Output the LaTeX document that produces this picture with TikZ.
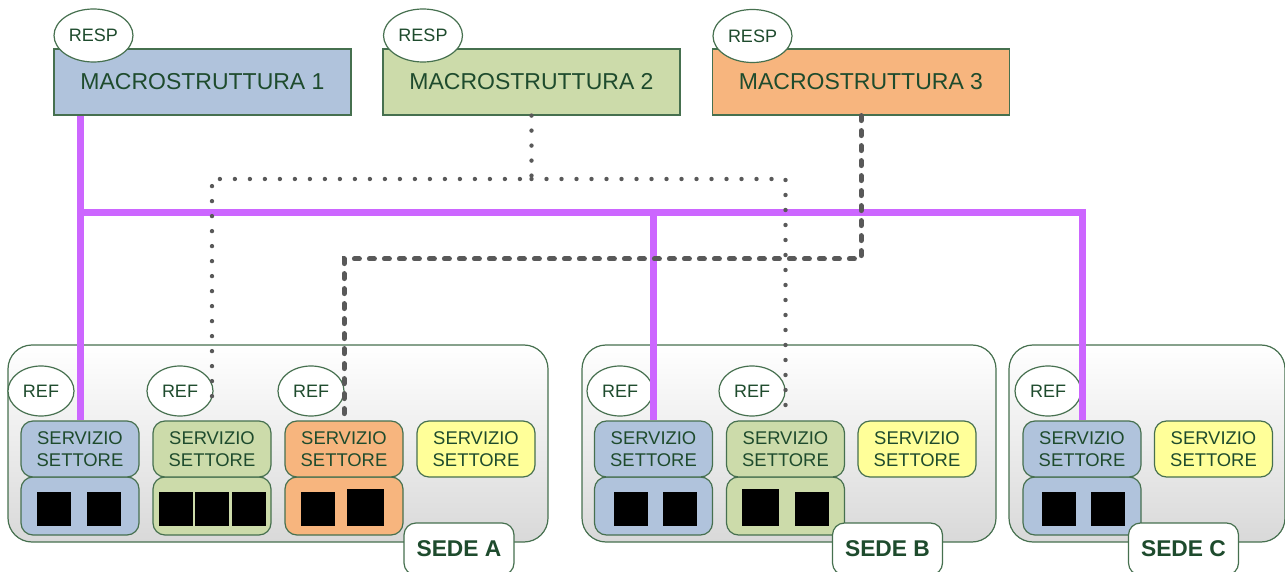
\documentclass[tikz,border=0pt]{standalone}
\usepackage{fontspec}
\setmainfont{Liberation Sans}
\usetikzlibrary{shapes.geometric}

\definecolor{testo}{HTML}{1E4B2D}
\definecolor{bordo}{HTML}{46704F}
\definecolor{blu}{HTML}{B0C3DC}
\definecolor{verde}{HTML}{CCDBAA}
\definecolor{arancio}{HTML}{F7B57E}
\definecolor{giallo}{HTML}{FFFF99}
\definecolor{viola}{HTML}{CC66FF}
\definecolor{grigio}{HTML}{595959}

\begin{document}
\begin{tikzpicture}[
    x=0.5pt, y=-0.5pt,
    every node/.style={text=testo, inner sep=0pt},
    macro/.style={rectangle, draw=bordo, line width=0.6pt, minimum width=148.5pt, minimum height=33pt, font=\fontsize{11.5}{13}\selectfont},
    resp/.style={ellipse, draw=bordo, fill=white, line width=0.6pt, minimum width=39.5pt, minimum height=26.5pt, font=\fontsize{9}{10}\selectfont},
    ref/.style={ellipse, draw=bordo, fill=white, line width=0.6pt, minimum width=33pt, minimum height=25pt, font=\fontsize{9}{10}\selectfont},
    sede/.style={rectangle, rounded corners=12pt, draw=bordo, line width=0.6pt, top color=white, bottom color=black!15, minimum height=98.5pt},
    servizio/.style={rectangle, rounded corners=6pt, draw=bordo, line width=0.6pt, minimum width=59pt, minimum height=28pt, align=center, font=\fontsize{9.2}{11}\selectfont},
    persone/.style={rectangle, rounded corners=6pt, draw=bordo, line width=0.6pt, minimum width=59pt, minimum height=29pt},
    nome/.style={rectangle, fill=black, minimum width=17pt, minimum height=17pt},
    nomebig/.style={rectangle, fill=black, minimum width=18.5pt, minimum height=18.5pt},
    etichetta/.style={rectangle, rounded corners=6pt, draw=bordo, fill=white, line width=0.6pt, minimum width=55pt, minimum height=26pt, font=\fontsize{11.4}{13}\selectfont\bfseries},
    link/.style={draw=viola, line width=3.5pt},
    dotline/.style={draw=grigio, line width=2.2pt, line cap=round, dash pattern=on 0pt off 7.5pt},
    dashline/.style={draw=grigio, line width=2.5pt, line cap=round, dash pattern=on 2.5pt off 5pt}
]
    \useasboundingbox (0,0) rectangle (1285,572);

    % macrostrutture
    \node[macro, fill=blu] (m1) at (202.5,82) {MACROSTRUTTURA 1};
    \node[macro, fill=verde] (m2) at (531.5,82) {MACROSTRUTTURA 2};
    \node[macro, fill=arancio] (m3) at (861,82) {MACROSTRUTTURA 3};
    \node[resp] (r1) at (93.5,35.5) {RESP};
    \node[resp] (r2) at (423,35.5) {RESP};
    \node[resp] (r3) at (752.5,36) {RESP};

    % sedi
    \node[sede, minimum width=270pt] (sedeA) at (278,443.5) {};
    \node[sede, minimum width=207pt] (sedeB) at (789,443.5) {};
    \node[sede, minimum width=138pt] (sedeC) at (1147,443.5) {};

    % sede A
    \node[persone, fill=blu] (pA1) at (80,506) {};
    \node[persone, fill=verde] (pA2) at (212,506) {};
    \node[persone, fill=arancio] (pA3) at (344,506) {};
    \node[servizio, fill=blu] (sA1) at (80,449) {SERVIZIO\\SETTORE};
    \node[servizio, fill=verde] (sA2) at (212,449) {SERVIZIO\\SETTORE};
    \node[servizio, fill=arancio] (sA3) at (344,449) {SERVIZIO\\SETTORE};
    \node[servizio, fill=giallo] (sA4) at (476,449) {SERVIZIO\\SETTORE};
    \node[nome] (nA1a) at (54,509) {};
    \node[nome] (nA1b) at (104,509) {};
    \node[nome] (nA2a) at (176,509) {};
    \node[nome] (nA2b) at (212,509) {};
    \node[nome] (nA2c) at (249,509) {};
    \node[nome] (nA3a) at (318,509) {};
    \node[nomebig] (nA3b) at (365.5,507.5) {};
    \node[ref] (fA1) at (41,391) {REF};
    \node[ref] (fA2) at (180,391) {REF};
    \node[ref] (fA3) at (311,391) {REF};

    % sede B
    \node[persone, fill=blu] (pB1) at (653.5,506) {};
    \node[persone, fill=verde] (pB2) at (785.5,506) {};
    \node[servizio, fill=blu] (sB1) at (653.5,449) {SERVIZIO\\SETTORE};
    \node[servizio, fill=verde] (sB2) at (785.5,449) {SERVIZIO\\SETTORE};
    \node[servizio, fill=giallo] (sB3) at (917,449) {SERVIZIO\\SETTORE};
    \node[nome] (nB1a) at (631,509) {};
    \node[nome] (nB1b) at (680,509) {};
    \node[nomebig] (nB2a) at (760.5,507.5) {};
    \node[nome] (nB2b) at (812,509) {};
    \node[ref] (fB1) at (620,391) {REF};
    \node[ref] (fB2) at (752,391) {REF};

    % sede C
    \node[persone, fill=blu] (pC1) at (1082,506) {};
    \node[servizio, fill=blu] (sC1) at (1082,449) {SERVIZIO\\SETTORE};
    \node[servizio, fill=giallo] (sC2) at (1213.5,449) {SERVIZIO\\SETTORE};
    \node[nome] (nC1a) at (1059,509) {};
    \node[nome] (nC1b) at (1108,509) {};
    \node[ref] (fC1) at (1048,391) {REF};

    % collegamenti
    \coordinate (bus) at (80,213);
    \coordinate (dtop) at (531.5,179);
    \coordinate (ktop) at (861,259);
    \draw[link] (m1.south -| sA1.north) -- (sA1.north);
    \draw[link] (bus) -| (sB1.north);
    \draw[link] (bus) -| (sC1.north);
    \draw[dotline, shorten >=5pt] (m2.south) -- (dtop) -| (sA2.north);
    \draw[dotline, shorten >=5pt] (dtop) -| (sB2.north);
    \draw[dashline, shorten >=1.5pt] (m3.south) -- (ktop) -| (sA3.north);

    % etichette sedi
    \node[etichetta] (eA) at (459,549) {SEDE A};
    \node[etichetta] (eB) at (887.5,549) {SEDE B};
    \node[etichetta] (eC) at (1183.5,549) {SEDE C};
\end{tikzpicture}
\end{document}
